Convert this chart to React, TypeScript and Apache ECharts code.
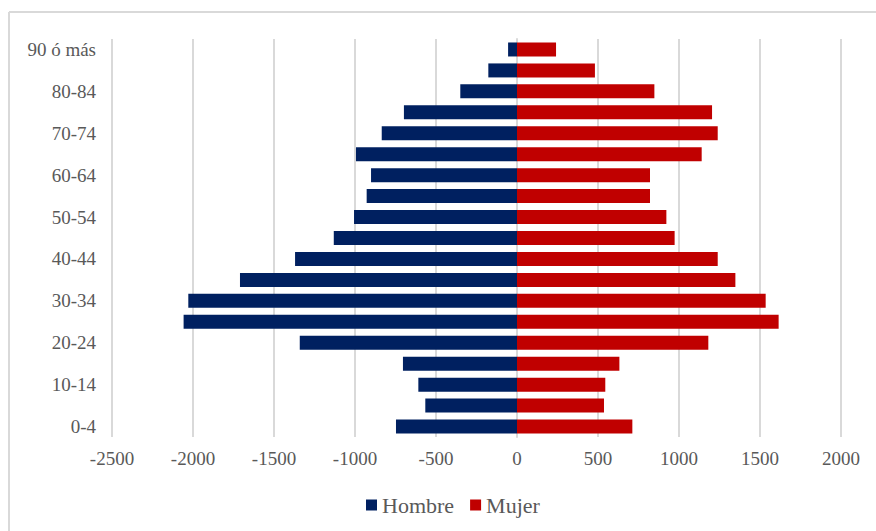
import React, { useEffect, useRef } from "react";
import * as echarts from "echarts";

// Age groups, youngest first (category axis runs bottom to top)
const ageGroups = [
  "0-4", "5-9", "10-14", "15-19", "20-24", "25-29", "30-34", "35-39",
  "40-44", "45-49", "50-54", "55-59", "60-64", "65-69", "70-74", "75-79",
  "80-84", "85-89", "90 ó más",
];

// Men are plotted as negative values to the left of zero
const hombre = [
  -747, -566, -609, -704, -1341, -2058, -2029, -1710,
  -1370, -1131, -1006, -928, -901, -994, -835, -698,
  -350, -177, -55,
];

const mujer = [
  712, 537, 545, 632, 1181, 1615, 1535, 1348,
  1239, 973, 922, 821, 821, 1140, 1239, 1204,
  848, 481, 241,
];

const xMin = -2500;
const xMax = 2000;
const xStep = 500;

const FONT = "Liberation Serif, Times New Roman, serif";
const TEXT_COLOR = "#595959";
const GRID_COLOR = "#d9d9d9";

export default function App() {
  const ref = useRef<HTMLDivElement>(null);

  useEffect(() => {
    document.body.style.margin = "0";
    if (!ref.current) return;
    const chart = echarts.init(ref.current, undefined, { renderer: "svg" });
    chart.setOption({
      animation: false,
      backgroundColor: "#ffffff",
      textStyle: { fontFamily: FONT },
      grid: { left: 112, right: 35, top: 39, bottom: 94, containLabel: false },
      xAxis: {
        type: "value",
        min: xMin,
        max: xMax,
        interval: xStep,
        axisLine: { show: false },
        axisTick: { show: false },
        axisLabel: {
          color: TEXT_COLOR,
          fontSize: 19,
          fontFamily: FONT,
          margin: 12,
          formatter: (v: number) => String(v),
        },
        splitLine: { show: true, lineStyle: { color: GRID_COLOR, width: 2 } },
      },
      yAxis: {
        type: "category",
        data: ageGroups,
        axisLine: { show: true, onZero: true, lineStyle: { color: GRID_COLOR, width: 2 } },
        axisTick: { show: false },
        axisLabel: {
          color: TEXT_COLOR,
          fontSize: 19,
          fontFamily: FONT,
          interval: 1,
          margin: 16,
        },
        splitLine: { show: false },
      },
      legend: {
        data: ["Hombre", "Mujer"],
        left: 361,
        top: 489,
        icon: "rect",
        itemWidth: 11,
        itemHeight: 11,
        itemGap: 16,
        textStyle: { color: TEXT_COLOR, fontSize: 22, fontFamily: FONT },
      },
      series: [
        {
          name: "Hombre",
          type: "bar",
          data: hombre,
          barWidth: 14,
          barGap: "-100%",
          itemStyle: { color: "#002060" },
        },
        {
          name: "Mujer",
          type: "bar",
          data: mujer,
          barWidth: 14,
          itemStyle: { color: "#c00000" },
        },
      ],
      graphic: [
        {
          type: "line",
          shape: { x1: 9, y1: 12, x2: 876, y2: 12 },
          style: { stroke: GRID_COLOR, lineWidth: 2 },
          silent: true,
        },
        {
          type: "line",
          shape: { x1: 9, y1: 12, x2: 9, y2: 531 },
          style: { stroke: GRID_COLOR, lineWidth: 2 },
          silent: true,
        },
      ],
    });
    return () => chart.dispose();
  }, []);

  return <div ref={ref} style={{ width: 876, height: 531 }} />;
}
